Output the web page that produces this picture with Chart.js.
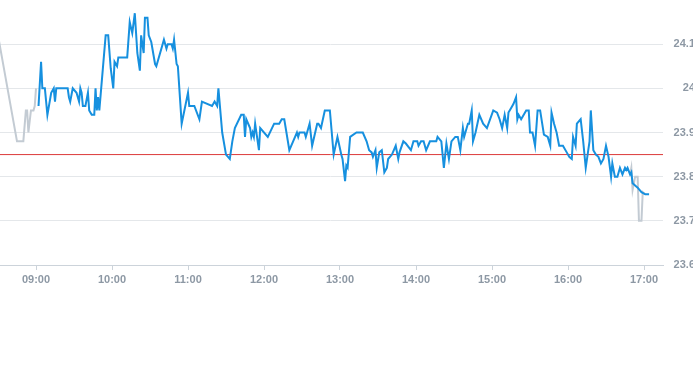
<!DOCTYPE html>
<html><head><meta charset="utf-8">
<script src="https://cdn.jsdelivr.net/npm/chart.js@4.4.1/dist/chart.umd.min.js"></script>
<style>
html,body{margin:0;padding:0;background:#fff;overflow:hidden;width:693px;height:365px;}
#wrap{position:absolute;left:-2px;top:0;width:697px;height:300px;}
</style></head><body>
<div id="wrap"><canvas id="c"></canvas></div>
<script>
const xRange = ['08:30', '17:15'];
const xTickLabels = ['09:00','10:00','11:00','12:00','13:00','14:00','15:00','16:00','17:00'];
const yTickLabels = ['23.6','23.7','23.8','23.9','24','24.1'];
const yRange = [23.6, 24.2];
const prevClose = 23.85;

const times = ['09:02','09:04','09:05','09:07','09:09','09:12','09:14','09:15','09:16','09:25','09:26','09:27','09:29','09:32','09:34','09:35','09:36','09:37','09:39','09:41','09:42','09:44','09:46','09:47','09:48','09:49','09:50','09:55','09:57','09:59',
'10:01','10:02','10:04','10:05','10:12','10:14','10:16','10:18','10:20','10:22','10:23','10:25','10:26','10:28','10:29','10:31','10:34','10:35','10:41','10:43','10:44','10:47','10:48','10:49','10:51','10:52','10:55',
'11:00','11:01','11:05','11:09','11:11','11:19','11:21','11:23','11:24','11:27','11:30','11:33','11:35','11:37','11:42','11:44','11:45','11:46','11:49','11:50','11:51','11:52','11:53','11:56','11:57',
'12:03','12:08','12:12','12:14','12:16','12:20','12:23','12:26','12:27','12:28','12:32','12:33','12:36','12:38','12:42','12:43','12:45','12:48','12:52','12:55','12:58',
'13:01','13:02','13:04','13:05','13:06','13:08','13:13','13:18','13:21','13:23','13:25','13:26','13:28','13:29','13:31','13:33','13:35','13:37','13:38','13:41','13:44','13:46','13:47','13:50','13:52','13:56','13:58',
'14:01','14:02','14:04','14:06','14:08','14:11','14:16','14:17','14:20','14:22','14:24','14:26','14:28','14:31','14:33','14:35','14:37','14:38','14:40','14:41','14:42','14:44','14:45','14:47','14:50','14:53','14:56',
'15:01','15:04','15:06','15:08','15:10','15:12','15:13','15:15','15:17','15:19','15:20','15:21','15:23','15:27','15:29','15:30','15:32','15:34','15:36','15:38','15:41','15:44','15:46','15:47','15:49','15:51','15:53','15:56','15:59',
'16:01','16:03','16:04','16:06','16:07','16:10','16:12','16:14','16:16','16:17','16:18','16:20','16:22','16:24','16:26','16:28','16:30','16:32','16:34','16:35','16:37','16:39','16:41','16:43','16:45','16:46','16:47','16:49','16:50','16:51','16:53','16:55','16:58',
'17:01','17:04'];
const prices = [23.96,24.06,24.00,24.00,23.94,23.99,24.00,23.97,24.00,24.00,23.98,23.97,24.00,23.99,23.97,24.00,23.99,23.96,23.96,23.99,23.95,23.94,23.94,24.00,23.95,23.98,23.95,24.12,24.12,24.045,
24.00,24.06,24.05,24.07,24.07,24.15,24.125,24.17,24.08,24.04,24.12,24.08,24.16,24.16,24.12,24.105,24.055,24.05,24.11,24.09,24.10,24.10,24.09,24.11,24.055,24.05,23.92,
23.99,23.96,23.96,23.93,23.97,23.96,23.97,23.96,24.00,23.90,23.85,23.84,23.88,23.91,23.94,23.94,23.89,23.93,23.91,23.89,23.90,23.89,23.92,23.86,23.91,
23.89,23.92,23.92,23.93,23.93,23.86,23.88,23.90,23.89,23.90,23.90,23.89,23.92,23.87,23.92,23.92,23.91,23.95,23.95,23.85,23.89,
23.85,23.84,23.79,23.825,23.82,23.89,23.90,23.90,23.88,23.86,23.855,23.845,23.86,23.82,23.855,23.86,23.81,23.82,23.84,23.85,23.87,23.84,23.855,23.88,23.875,23.86,23.88,
23.88,23.87,23.88,23.88,23.86,23.88,23.88,23.89,23.88,23.82,23.875,23.84,23.88,23.89,23.89,23.86,23.91,23.89,23.91,23.92,23.92,23.95,23.88,23.90,23.94,23.92,23.91,
23.95,23.945,23.93,23.91,23.94,23.91,23.945,23.955,23.965,23.98,23.93,23.94,23.93,23.95,23.95,23.90,23.90,23.87,23.95,23.95,23.895,23.89,23.87,23.945,23.92,23.90,23.87,23.87,23.855,
23.845,23.84,23.89,23.87,23.92,23.93,23.88,23.82,23.86,23.88,23.95,23.86,23.85,23.845,23.83,23.84,23.87,23.845,23.80,23.83,23.80,23.80,23.82,23.805,23.82,23.815,23.82,23.805,23.81,23.785,23.78,23.775,23.765,
23.76,23.76];

const preTimes = ['08:30','08:45','08:50','08:52','08:53','08:54','08:56','08:58','08:59','09:00'];
const prePrices = [24.12,23.88,23.88,23.95,23.95,23.90,23.95,23.95,23.96,24.00];
const postTimes = ['16:49','16:50','16:51','16:53','16:55','16:56','16:58','16:59','17:01'];
const postPrices = [23.805,23.82,23.77,23.80,23.80,23.70,23.70,23.765,23.76];

const toMin = s => { const p = s.split(':').map(Number); return p[0]*60 + p[1]; };
const pts = (t, v) => t.map((s, i) => ({x: toMin(s), y: v[i]}));

const labelFont = {family: '"Liberation Sans", Arial, sans-serif', size: 11, weight: 'bold'};
const labelColor = '#8d98a4';
const lineOpts = {pointRadius: 0, tension: 0, fill: false};

new Chart(document.getElementById('c'), {
  type: 'line',
  data: {datasets: [
    Object.assign({data: pts(times, prices), borderColor: '#1690df', borderWidth: 2, order: 0}, lineOpts),
    Object.assign({data: pts(preTimes, prePrices), borderColor: '#c3cbd3', borderWidth: 2, order: 1}, lineOpts),
    Object.assign({data: pts(postTimes, postPrices), borderColor: '#c3cbd3', borderWidth: 2, order: 1}, lineOpts),
    Object.assign({data: [{x: toMin(xRange[0]), y: prevClose}, {x: toMin(xRange[1]), y: prevClose}], borderColor: '#dc3a3a', borderWidth: 1, order: 2}, lineOpts)
  ]},
  options: {
    animation: false, responsive: true, maintainAspectRatio: false,
    layout: {padding: 0},
    plugins: {legend: {display: false}, tooltip: {enabled: false}},
    scales: {
      x: {
        type: 'linear', min: toMin(xRange[0]), max: toMin(xRange[1]),
        afterBuildTicks: s => { s.ticks = xTickLabels.map(l => ({value: toMin(l)})); },
        ticks: {callback: (v, i) => xTickLabels[i], font: labelFont, color: labelColor, padding: 3, maxRotation: 0, autoSkip: false},
        grid: {drawOnChartArea: false, drawTicks: true, tickLength: 5, color: '#ccd3da'},
        border: {color: '#ccd3da'},
        afterFit: s => { s.height = 35; s.paddingLeft = 0; s.paddingRight = 0; }
      },
      y: {
        position: 'right', min: yRange[0], max: yRange[1],
        afterBuildTicks: s => { s.ticks = yTickLabels.map(l => ({value: parseFloat(l)})); },
        ticks: {callback: (v, i) => yTickLabels[i], crossAlign: 'far', padding: 10, font: labelFont, color: labelColor, autoSkip: false},
        grid: {drawTicks: false, color: '#e4e7ea'},
        border: {display: false},
        afterFit: s => { s.width = 32; s.paddingTop = 0; s.paddingBottom = 0; }
      }
    }
  }
});
</script>
</body></html>
